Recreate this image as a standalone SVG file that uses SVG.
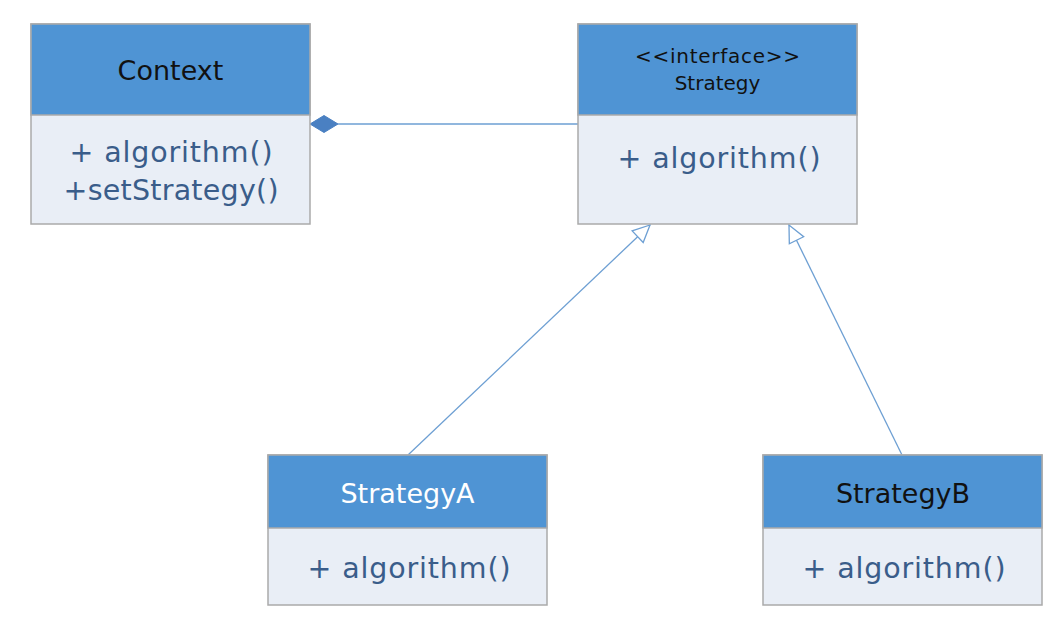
<svg xmlns="http://www.w3.org/2000/svg" width="1064" height="622" viewBox="0 0 1064 622">
  <style>
    .body { fill: #e9eef6; stroke: #aaaaaa; stroke-width: 1.5; }
    .head { fill: #4f94d4; stroke: #aaaaaa; stroke-width: 1.5; }
    .title { font-family: "DejaVu Sans", sans-serif; font-size: 27px; fill: #111111; text-anchor: middle; }
    .stereo { font-family: "DejaVu Sans", sans-serif; font-size: 20px; fill: #111111; text-anchor: middle; }
    .member { font-family: "DejaVu Sans", sans-serif; font-size: 28.5px; fill: #3a5d8a; text-anchor: middle; }
    .conn { stroke: #6d9fd3; stroke-width: 1.3; fill: none; }
  </style>
  <defs>
    <marker id="hollow" markerUnits="userSpaceOnUse" markerWidth="22" markerHeight="22" viewBox="-20 -10 22 20" refX="0" refY="0" orient="auto">
      <path d="M0,0 L-17,-8 L-17,8 Z" fill="#ffffff" stroke="#6d9fd3" stroke-width="1.3"/>
    </marker>
  </defs>
  <rect width="1064" height="622" fill="#ffffff"/>

  <g id="connectors">
    <line class="conn" x1="338" y1="124" x2="578" y2="124"/>
    <path d="M310,124 L324,115.5 L338,124 L324,132.5 Z" fill="#4a80c2" stroke="#4a80c2" stroke-width="1"/>
    <line class="conn" x1="408" y1="455" x2="650" y2="225" marker-end="url(#hollow)"/>
    <line class="conn" x1="902" y1="455" x2="789" y2="225" marker-end="url(#hollow)"/>
  </g>

  <g id="context">
    <rect class="body" x="31" y="24" width="279" height="200"/>
    <rect class="head" x="31" y="24" width="279" height="91"/>
    <text class="title" x="170.5" y="80">Context</text>
    <text class="member" x="171" y="162" textLength="203" lengthAdjust="spacing">+ algorithm()</text>
    <text class="member" x="171" y="200" textLength="215" lengthAdjust="spacing">+setStrategy()</text>
  </g>

  <g id="strategy">
    <rect class="body" x="578" y="24" width="279" height="200"/>
    <rect class="head" x="578" y="24" width="279" height="91"/>
    <text class="stereo" x="717.5" y="63" textLength="165" lengthAdjust="spacing">&lt;&lt;interface&gt;&gt;</text>
    <text class="stereo" x="717.5" y="90">Strategy</text>
    <text class="member" x="719" y="168" textLength="203" lengthAdjust="spacing">+ algorithm()</text>
  </g>

  <g id="strategyA">
    <rect class="body" x="268" y="455" width="279" height="150"/>
    <rect class="head" x="268" y="455" width="279" height="73"/>
    <text class="title" x="407.5" y="503" style="fill:#ffffff">StrategyA</text>
    <text class="member" x="409" y="578" textLength="203" lengthAdjust="spacing">+ algorithm()</text>
  </g>

  <g id="strategyB">
    <rect class="body" x="763" y="455" width="279" height="150"/>
    <rect class="head" x="763" y="455" width="279" height="73"/>
    <text class="title" x="903" y="503">StrategyB</text>
    <text class="member" x="904" y="578" textLength="203" lengthAdjust="spacing">+ algorithm()</text>
  </g>
</svg>
